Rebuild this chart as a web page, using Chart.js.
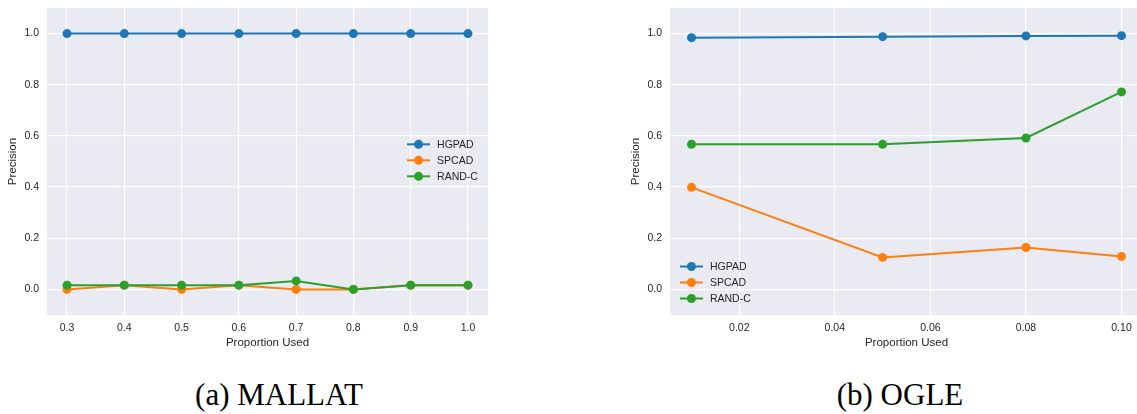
<!DOCTYPE html>
<html>
<head>
<meta charset="utf-8">
<script src="https://cdn.jsdelivr.net/npm/chart.js@4.4.1/dist/chart.umd.min.js"></script>
<style>
  html, body { margin: 0; padding: 0; background: #fff; overflow: hidden; }
  #page { position: relative; width: 1137px; height: 414px; overflow: hidden; }
  canvas { position: absolute; top: 0; }
  .caption { position: absolute; font-family: "Liberation Serif", "DejaVu Serif", serif; font-size: 31px; color: #000; white-space: nowrap; transform: translateX(-50%); top: 377px; }
</style>
</head>
<body>
<div id="page">
  <canvas id="mallat" width="500" height="360" style="left:0px"></canvas>
  <canvas id="ogle" width="532" height="360" style="left:623px"></canvas>
  <div class="caption" style="left:279px">(a) MALLAT</div>
  <div class="caption" style="left:900px">(b) OGLE</div>
</div>
<script>
// data
const seriesNames = ["HGPAD", "SPCAD", "RAND-C"]
const seriesColors = ["#1f77b4", "#ff7f0e", "#2ca02c"]

// (a) MALLAT
const mallatX = [0.3, 0.4, 0.5, 0.6, 0.7, 0.8, 0.9, 1.0]
const mallatHGPAD = [1.0, 1.0, 1.0, 1.0, 1.0, 1.0, 1.0, 1.0]
const mallatSPCAD = [0.0, 0.0167, 0.0, 0.0167, 0.0, 0.0, 0.0167, 0.0167]
const mallatRANDC = [0.0167, 0.0167, 0.0167, 0.0167, 0.0333, 0.0, 0.0167, 0.0167]
const mallatTicks = [0.3, 0.4, 0.5, 0.6, 0.7, 0.8, 0.9, 1.0]

// (b) OGLE
const ogleX = [0.01, 0.05, 0.08, 0.10]
const ogleHGPAD = [0.984, 0.988, 0.991, 0.992]
const ogleSPCAD = [0.399, 0.125, 0.164, 0.129]
const ogleRANDC = [0.567, 0.567, 0.592, 0.772]
const ogleTicks = [0.02, 0.04, 0.06, 0.08, 0.10]

const yTicks = [0.0, 0.2, 0.4, 0.6, 0.8, 1.0]

const textColor = "#262626"
const fontName = "'Liberation Sans', Arial, sans-serif"

// grey seaborn-like background behind the grid
const plotBackground = {
  id: 'plotBackground',
  beforeDraw(chart) {
    const a = chart.chartArea
    chart.ctx.save()
    chart.ctx.fillStyle = "#eaeaf2"
    chart.ctx.fillRect(a.left, a.top, a.right - a.left, a.bottom - a.top)
    chart.ctx.restore()
  }
}

// legend drawn inside the axes, position given as fraction of the plot area
const insideLegend = {
  id: 'insideLegend',
  afterDatasetsDraw(chart, args, opts) {
    const a = chart.chartArea, ctx = chart.ctx
    const x = a.left + opts.fx * (a.right - a.left)
    let y = a.top + opts.fy * (a.bottom - a.top)
    ctx.save()
    ctx.font = "10.5px " + fontName
    ctx.textBaseline = "middle"
    chart.data.datasets.slice().sort((p, q) => p.idx - q.idx).forEach(ds => {
      ctx.strokeStyle = ds.borderColor
      ctx.lineWidth = 2
      ctx.beginPath()
      ctx.moveTo(x, y)
      ctx.lineTo(x + 23, y)
      ctx.stroke()
      ctx.fillStyle = ds.borderColor
      ctx.beginPath()
      ctx.arc(x + 11.5, y, 4.5, 0, Math.PI * 2)
      ctx.fill()
      ctx.fillStyle = textColor
      ctx.fillText(ds.label, x + 30, y + 0.5)
      y += 16
    })
    ctx.restore()
  }
}

function makeChart(id, xs, hg, sp, rc, xmin, xmax, xTicks, digits, legendPos) {
  const cols = [hg, sp, rc]
  const datasets = cols.map((vals, i) => ({
    label: seriesNames[i],
    idx: i,
    data: xs.map((x, j) => ({ x: x, y: vals[j] })),
    borderColor: seriesColors[i],
    backgroundColor: seriesColors[i],
    pointBackgroundColor: seriesColors[i],
    borderWidth: 2,
    pointRadius: 4.5,
    pointBorderWidth: 0,
    tension: 0,
    order: 2 - i
  }))

  return new Chart(document.getElementById(id), {
    type: 'line',
    data: { datasets: datasets },
    plugins: [plotBackground, insideLegend],
    options: {
      responsive: false,
      animation: false,
      devicePixelRatio: 1,
      layout: { padding: { top: 8, right: 12, left: 0, bottom: 0 } },
      plugins: {
        legend: { display: false },
        tooltip: { enabled: false },
        insideLegend: legendPos
      },
      scales: {
        x: {
          type: 'linear',
          min: xmin,
          max: xmax,
          afterBuildTicks: s => { s.ticks = xTicks.map(v => ({ value: v })) },
          afterFit: s => { s.height = 45; s.paddingLeft = 0; s.paddingRight = 0 },
          grid: { color: "#ffffff", lineWidth: 1.2, drawTicks: false },
          border: { display: false },
          ticks: {
            padding: 7,
            color: textColor,
            font: { family: fontName, size: 10.5 },
            callback: v => v.toFixed(digits)
          },
          title: {
            display: true,
            text: "Proportion Used",
            color: textColor,
            font: { family: fontName, size: 11.5 },
            padding: { top: 0, bottom: 10.5 }
          }
        },
        y: {
          min: -0.1,
          max: 1.1,
          afterBuildTicks: s => { s.ticks = yTicks.map(v => ({ value: v })) },
          afterFit: s => { s.width = 47; s.paddingTop = 0; s.paddingBottom = 0 },
          grid: { color: "#ffffff", lineWidth: 1.2, drawTicks: false },
          border: { display: false },
          ticks: {
            padding: 8,
            color: textColor,
            font: { family: fontName, size: 10.5 },
            callback: v => v.toFixed(1)
          },
          title: {
            display: true,
            text: "Precision",
            color: textColor,
            font: { family: fontName, size: 11.5 },
            padding: { top: 6, bottom: 0 }
          }
        }
      }
    }
  })
}

makeChart("mallat", mallatX, mallatHGPAD, mallatSPCAD, mallatRANDC, 0.265, 1.035, mallatTicks, 1, { fx: 0.8165, fy: 0.444 })
makeChart("ogle", ogleX, ogleHGPAD, ogleSPCAD, ogleRANDC, 0.0055, 0.1045, ogleTicks, 2, { fx: 0.021, fy: 0.842 })
</script>
</body>
</html>
